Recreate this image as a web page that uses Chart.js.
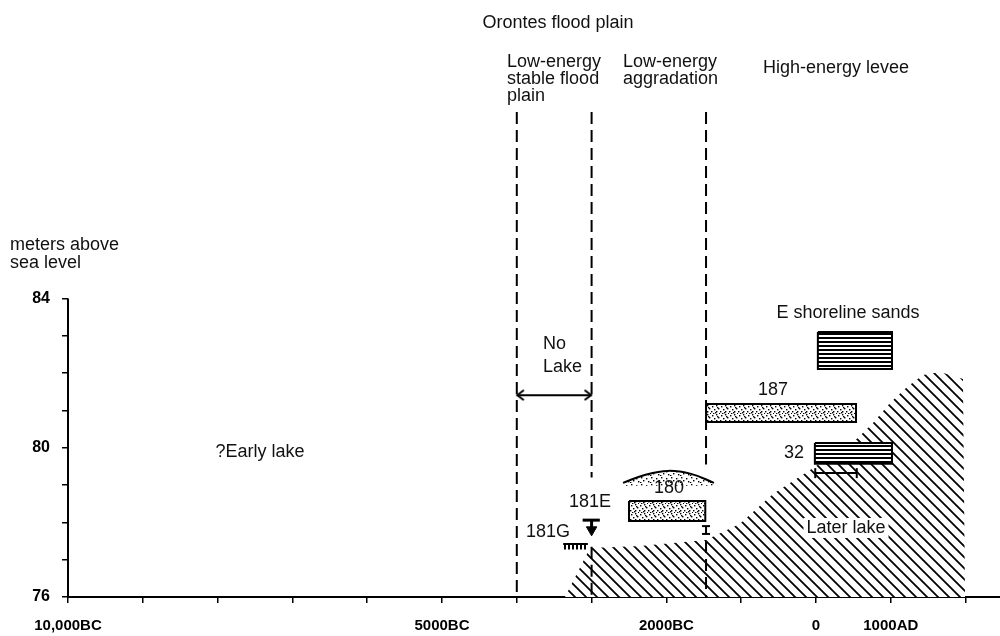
<!DOCTYPE html>
<html>
<head>
<meta charset="utf-8">
<title>Orontes flood plain</title>
<script src="https://cdn.jsdelivr.net/npm/chart.js@4.4.1/dist/chart.umd.min.js"></script>
<style>
  html, body { margin: 0; padding: 0; background: #fff; }
  #wrap { width: 1000px; height: 636px; position: relative; }
</style>
</head>
<body>
<div id="wrap"><canvas id="chart"></canvas></div>
<script>
// x = calendar year (negative = BC), y = metres above sea level
const xTicks = [-10000, -9000, -8000, -7000, -6000, -5000, -4000, -3000, -2000, -1000, 0, 1000, 2000];
const xTickLabels = { "-10000": "10,000BC", "-5000": "5000BC", "-2000": "2000BC", "0": "0", "1000": "1000AD" };
const yTicks = [76, 77, 78, 79, 80, 81, 82, 83, 84];
const yTickLabels = { 76: "76", 80: "80", 84: "84" };

// zone boundaries (dashed), gaps where labels sit
const boundaryStable = [[-4000, 89], [-4000, 76]];
const boundaryMid = [[-3000, 89], [-3000, 79.2], null, [-3000, 77.35], [-3000, 76]];
const boundaryLevee = [[-1470, 89], [-1470, 79.55], null, [-1470, 77.5], [-1470, 76]];

// later lake outline
const laterLake = [
  [-3356, 76], [-3021, 77.31], [-2353, 77.37], [-1470, 77.53], [-1016, 77.96],
  [-575, 78.76], [-120, 79.35], [321, 79.94], [548, 80.24], [762, 80.66],
  [989, 81.2], [1217, 81.63], [1430, 81.95], [1658, 82.03], [1965, 81.84], [1992, 76]
];

// samples: [x start, x end, y bottom, y top]
const sample187 = [-1470, 535, 80.69, 81.17];
const sampleShore = [25, 1016, 82.11, 83.1];
const sample32 = [-15, 1016, 79.57, 80.13];
const sample180 = [-2500, -1480, 78.04, 78.57];
const dome180 = [[-2580, 79.06], [-2290, 79.27], [-1980, 79.38], [-1670, 79.3], [-1364, 79.06]];
const range32 = [[-10, 79.32], [545, 79.32]];
const noLake = [[-4000, 81.41], [-3000, 81.41]];
const bar181E = [[-3120, 78.06], [-2890, 78.06]];
const stem181E = [[-3000, 78.06], [-3000, 77.8]];
const comb181G = [[-3380, 77.42], [-3050, 77.42]];
const beam = [[-1470, 77.69], [-1470, 77.9]];

const notes = [
  { text: "Orontes flood plain", x: -3450, y: 91.39, align: "center" },
  { text: "Low-energy", x: -4130, y: 90.34, align: "left" },
  { text: "stable flood", x: -4130, y: 89.89, align: "left" },
  { text: "plain", x: -4130, y: 89.43, align: "left" },
  { text: "Low-energy", x: -2580, y: 90.34, align: "left" },
  { text: "aggradation", x: -2580, y: 89.89, align: "left" },
  { text: "High-energy levee", x: -710, y: 90.18, align: "left" },
  { text: "meters above", x: -10775, y: 85.44, align: "left" },
  { text: "sea level", x: -10775, y: 84.95, align: "left" },
  { text: "?Early lake", x: -7433, y: 79.89, align: "center" },
  { text: "No", x: -3650, y: 82.78, align: "left" },
  { text: "Lake", x: -3650, y: 82.17, align: "left" },
  { text: "187", x: -575, y: 81.55, align: "center" },
  { text: "E shoreline sands", x: 428, y: 83.61, align: "center" },
  { text: "32", x: -294, y: 79.86, align: "center" },
  { text: "180", x: -1965, y: 78.92, align: "center" },
  { text: "181E", x: -3021, y: 78.55, align: "center" },
  { text: "181G", x: -3583, y: 77.74, align: "center" },
  { text: "Later lake", x: 401, y: 77.85, align: "center", clear: true }
];

const FONT = "'Liberation Sans', Arial, Helvetica, sans-serif";

const canvas = document.getElementById("chart");
const ctx = canvas.getContext("2d");

function tile(w, h, draw) {
  const c = document.createElement("canvas");
  c.width = w;
  c.height = h;
  const g = c.getContext("2d");
  g.fillStyle = "#fff";
  g.fillRect(0, 0, w, h);
  g.fillStyle = "#000";
  g.strokeStyle = "#000";
  draw(g);
  return ctx.createPattern(c, "repeat");
}

const hatch = tile(11, 11, (g) => {
  g.lineWidth = 1.8;
  g.beginPath();
  g.moveTo(-2, -2); g.lineTo(13, 13);
  g.moveTo(-2, 9); g.lineTo(2, 13);
  g.moveTo(9, -2); g.lineTo(13, 2);
  g.stroke();
});

const stipple = tile(9, 9, (g) => {
  [[1, 1], [5, 0], [7, 3], [3, 4], [0, 6], [5, 6], [8, 8], [2, 8], [6, 2], [4, 7]].forEach(([a, b]) => g.fillRect(a, b, 1.4, 1.4));
});

const sparseStipple = tile(10, 7, (g) => {
  [[1, 1], [6, 2], [3, 4], [8, 5], [0, 6]].forEach(([a, b]) => g.fillRect(a, b, 1.4, 1.4));
});

const hLines = tile(4, 4, (g) => g.fillRect(0, 1, 4, 2));
const vLines = tile(4, 4, (g) => g.fillRect(0, 0, 2, 4));

const chevron = document.createElement("canvas");
chevron.width = 16;
chevron.height = 12;
(function () {
  const g = chevron.getContext("2d");
  g.strokeStyle = "#000";
  g.lineWidth = 2;
  g.beginPath();
  g.moveTo(15, 1); g.lineTo(8.5, 6); g.lineTo(15, 11);
  g.stroke();
})();

function pts(arr) {
  let lastX = 0;
  return arr.map((p) => {
    if (!p) return { x: lastX, y: null };
    lastX = p[0];
    return { x: p[0], y: p[1] };
  });
}

function rect(r) {
  return pts([[r[0], r[3]], [r[1], r[3]], [r[1], r[2]], [r[0], r[2]], [r[0], r[3]]]);
}

function line(data, extra) {
  return Object.assign({
    data: pts(data),
    borderColor: "#000",
    borderWidth: 2,
    fill: false,
    pointRadius: 0,
    clip: false
  }, extra || {});
}

function box(r, pattern) {
  return {
    data: rect(r),
    borderColor: "#000",
    borderWidth: 2,
    backgroundColor: pattern,
    fill: "shape",
    pointRadius: 0,
    clip: false
  };
}

const dashes = { borderDash: [12, 6], borderWidth: 2 };

// first dataset is painted on top, last at the bottom
const datasets = [
  line([[-10000, 76], [-10000, 84]]),
  box(sample187, stipple),
  box(sampleShore, hLines),
  box(sample32, hLines),
  box(sample180, stipple),
  line(dome180, { tension: 0.4, backgroundColor: sparseStipple, fill: { target: { value: 78.98 } } }),
  line(range32, { pointStyle: "line", pointRadius: 5, pointRotation: 90, pointBorderWidth: 2, pointBorderColor: "#000" }),
  line(noLake, { pointStyle: chevron, pointRadius: 6, pointRotation: [0, 180] }),
  line(bar181E, { borderWidth: 3 }),
  line(stem181E, { borderWidth: 3 }),
  {
    data: pts([stem181E[1]]),
    pointStyle: "triangle",
    pointRotation: 180,
    pointRadius: 6,
    pointBackgroundColor: "#000",
    pointBorderColor: "#000",
    showLine: false,
    clip: false
  },
  line(comb181G, { backgroundColor: vLines, fill: { target: { value: 77.27 } } }),
  line(beam, { pointStyle: "line", pointRadius: 4, pointBorderWidth: 2, pointBorderColor: "#000" }),
  line(boundaryStable, dashes),
  line(boundaryMid, dashes),
  line(boundaryLevee, dashes),
  line(laterLake, { borderWidth: 0, backgroundColor: hatch, fill: "shape" })
];

const notesPlugin = {
  id: "notes",
  afterDatasetsDraw(chart) {
    const c = chart.ctx;
    const xs = chart.scales.x;
    const ys = chart.scales.y;
    c.save();
    c.font = "18px " + FONT;
    c.textBaseline = "middle";
    notes.forEach((n) => {
      const px = xs.getPixelForValue(n.x);
      const py = ys.getPixelForValue(n.y);
      c.textAlign = n.align;
      if (n.clear) {
        const w = c.measureText(n.text).width;
        const left = n.align === "center" ? px - w / 2 : px;
        c.fillStyle = "#fff";
        c.fillRect(left - 3, py - 10, w + 6, 20);
      }
      c.fillStyle = "#111";
      c.fillText(n.text, px, py);
    });
    c.restore();
  }
};

function noPadding(scale) {
  scale.paddingLeft = 0;
  scale.paddingRight = 0;
  scale.paddingTop = 0;
  scale.paddingBottom = 0;
}

new Chart(canvas, {
  type: "line",
  data: { datasets: datasets },
  plugins: [notesPlugin],
  options: {
    responsive: true,
    maintainAspectRatio: false,
    animation: false,
    events: [],
    layout: { padding: 0, autoPadding: false },
    elements: { point: { radius: 0 }, line: { tension: 0 } },
    plugins: { legend: { display: false }, tooltip: { enabled: false } },
    scales: {
      x: {
        type: "linear",
        min: -10000,
        max: 2460,
        afterBuildTicks: (scale) => { scale.ticks = xTicks.map((v) => ({ value: v })); },
        afterFit: (scale) => { scale.height = 39; noPadding(scale); },
        ticks: {
          autoSkip: false,
          maxRotation: 0,
          padding: 14,
          color: "#000",
          font: { family: FONT, size: 15, weight: "bold" },
          callback: (v) => xTickLabels[String(v)] || ""
        },
        grid: { drawOnChartArea: false, drawTicks: true, tickLength: 6, color: "#000", lineWidth: 1.5 },
        border: { display: true, color: "#000", width: 2 }
      },
      y: {
        type: "linear",
        min: 76,
        max: 92,
        afterBuildTicks: (scale) => { scale.ticks = yTicks.map((v) => ({ value: v })); },
        afterFit: (scale) => { scale.width = 68; noPadding(scale); },
        ticks: {
          padding: 12,
          color: "#000",
          font: { family: FONT, size: 16, weight: "bold" },
          callback: (v) => yTickLabels[v] || ""
        },
        grid: { drawOnChartArea: false, drawTicks: true, tickLength: 6, color: "#000", lineWidth: 1.5 },
        border: { display: false }
      }
    }
  }
});
</script>
</body>
</html>
